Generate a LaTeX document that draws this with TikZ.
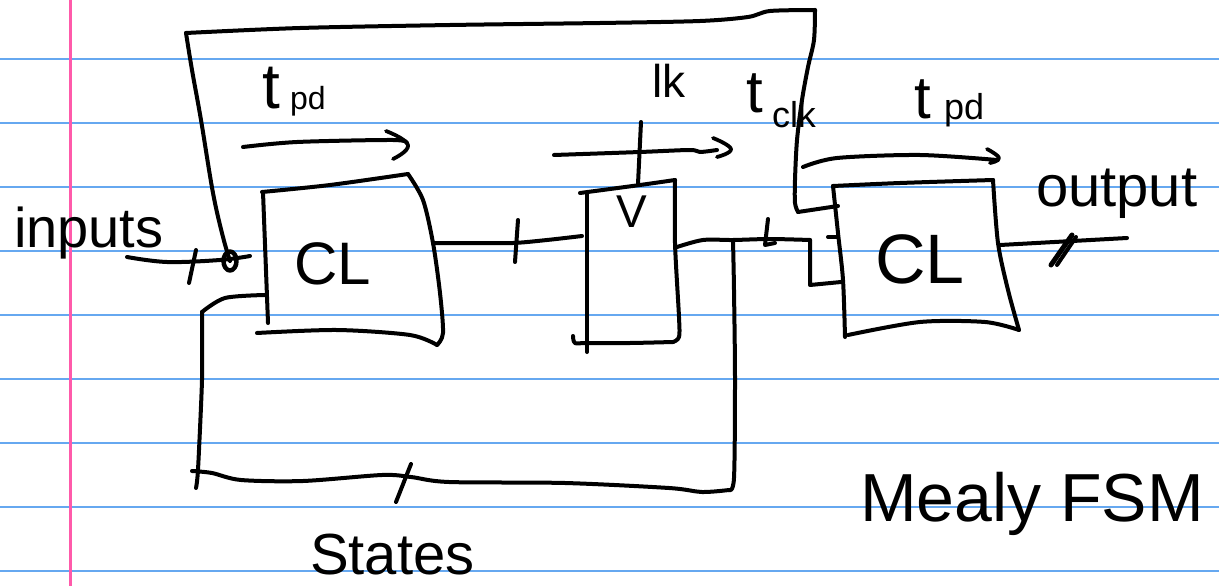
\documentclass[tikz,border=0pt]{standalone}
\usepackage{fontspec}
\setmainfont{Liberation Sans}
\definecolor{ruleblue}{RGB}{102,168,240}
\definecolor{marginpink}{RGB}{255,90,170}
\begin{document}
\begin{tikzpicture}[x=1pt,y=-1pt,
  ink/.style={line width=4pt,line cap=round,line join=round,black},
  rule/.style={line width=2pt,ruleblue},
  margin/.style={line width=2.2pt,marginpink},
  hand/.style={inner sep=0pt,outer sep=0pt,text=black},
  tip/.style={ink,line width=3.8pt}]
\useasboundingbox (0,0) rectangle (1219,586);
\fill[white] (0,0) rectangle (1219,586);
% ruled paper
\foreach \k in {0,...,8}{\draw[rule] (0,59+64*\k) -- (1219,59+64*\k);}
\draw[margin] (70.5,0) -- (70.5,586);

% key coordinates
\coordinate (dot) at (230,261);
\coordinate (inStart) at (127,257);
\coordinate (topL) at (186,33);
\coordinate (topR) at (815,10);
\coordinate (clkEnd) at (798,212);
\coordinate (cl2in1) at (838,206);
\coordinate (j1) at (733,240);
\coordinate (step) at (810,240);
\coordinate (cl2in2) at (841,282);

% ---- top feedback (inputs -> second CL)
\draw[ink] plot[smooth,tension=0.6] coordinates {(dot) (223,237) (213,193) (201,120) (192,70) (topL)};
\draw[ink] plot[smooth,tension=0.5] coordinates {(topL) (300,28) (450,25) (600,23) (700,21) (748,17) (770,11) (topR)};
\draw[ink] plot[smooth,tension=0.5] coordinates {(topR) (814,40) (808,67) (802,100) (797,140) (795,180) (795,203) (clkEnd)};
\draw[ink] (clkEnd) -- (cl2in1);

% ---- inputs line
\draw[ink] plot[smooth,tension=0.6] coordinates {(inStart) (167,262) (220,260) (250,256)};
\draw[ink] (196,250) -- (189,283);
\draw[ink,line width=4.5pt] (dot) ellipse [x radius=6.5pt, y radius=9.5pt];

% ---- first CL box
\node[hand,font=\fontsize{60}{60}\selectfont] (cl1) at (333,264) {CL};
\draw[ink] (263,192) -- (268,323);
\draw[ink] plot[smooth,tension=0.5] coordinates {(262,192) (330,185) (408,174)};
\draw[ink] plot[smooth,tension=0.5] coordinates {(408,174) (423,200) (433,243) (440,293) (443,333) (437,345)};
\draw[ink] plot[smooth,tension=0.5] coordinates {(437,345) (410,335) (337,330) (257,333)};

% ---- states feedback loop
\draw[ink] plot[smooth,tension=0.5] coordinates {(265,295) (225,298) (202,312)};
\draw[ink] plot[smooth,tension=0.4] coordinates {(202,312) (202,380) (198,470) (196,488)};
\draw[ink] plot[smooth,tension=0.5] coordinates {(192,471) (212,473) (241,480) (303,481) (382,475) (411,477) (449,482) (565,483) (669,488) (702,492) (729,490)};
\draw[ink] plot[smooth,tension=0.5] coordinates {(729,490) (734,478) (735,380) (734,290) (j1)};
\draw[ink] (411,464) -- (396,502);

% ---- CL1 -> register
\draw[ink] plot[smooth,tension=0.5] coordinates {(433,243) (470,243) (513,243) (547,240) (582,236)};
\draw[ink] (518,220) -- (515,262);

% ---- register
\node[hand,font=\fontsize{46}{46}\selectfont] (reg) at (632,212) {V};
\draw[ink] (587,193) -- (587,352);
\draw[ink] plot[smooth,tension=0.5] coordinates {(580,193) (640,185) (675,180)};
\draw[ink] plot[smooth,tension=0.5] coordinates {(675,180) (675,243) (679,317) (679,337) (673,342)};
\draw[ink] plot[smooth,tension=0.5] coordinates {(673,342) (630,343) (587,343) (575,343) (573,336)};
\draw[ink] (641,122) -- (638,184);

% ---- register -> second CL
\draw[ink] plot[smooth,tension=0.5] coordinates {(677,247) (703,240) (j1) (770,239) (step)};
\draw[ink] (768,219) -- (765,245) -- (775,243);
\draw[ink] (step) -- (810,285) -- (cl2in2);
\draw[ink] (828,237) -- (838,237);

% ---- second CL box
\node[hand,font=\fontsize{70}{70}\selectfont] (cl2) at (920,259) {CL};
\draw[ink] plot[smooth,tension=0.5] coordinates {(833,186) (838,233) (843,280) (845,337)};
\draw[ink] plot[smooth,tension=0.5] coordinates {(833,186) (900,183) (993,180)};
\draw[ink] plot[smooth,tension=0.5] coordinates {(993,180) (998,243) (1008,290) (1019,330)};
\draw[ink] plot[smooth,tension=0.5] coordinates {(1019,330) (985,322) (920,322) (848,335)};

% ---- output
\coordinate (outEnd) at (1127,238);
\draw[ink] (1000,245) -- (outEnd);
\draw[ink,line width=5pt] (1051,265) -- (1072,235);
\draw[ink] (1057,265) -- (1076,237);

% ---- timing arrows
\draw[ink] plot[smooth,tension=0.5] coordinates {(243,147) (297,142) (393,140) (407,143)};
\draw[tip] plot[smooth,tension=0.8] coordinates {(386,131) (408,145) (393,159)};
\draw[ink] plot[smooth,tension=0.5] coordinates {(554,155) (640,152) (690,150) (700,152) (717,150)};
\draw[tip] plot[smooth,tension=0.8] coordinates {(713,138) (731,149) (717,157)};
\draw[ink] plot[smooth,tension=0.5] coordinates {(803,167) (837,158) (920,155) (997,160)};
\draw[tip] plot[smooth,tension=0.8] coordinates {(987,149) (999,158) (990,163)};

% ---- labels
\node[hand,anchor=base west,font=\fontsize{56}{56}\selectfont] (inputs) at (14,247) {inputs};
\node[hand,anchor=base west,font=\fontsize{64}{64}\selectfont] (tpd1) at (262,108) {t};
\node[hand,anchor=base west,font=\fontsize{32}{32}\selectfont] (tpd1s) at (290,110) {pd};
\node[hand,anchor=base west,font=\fontsize{46}{46}\selectfont] (lk) at (652,98) {lk};
\node[hand,anchor=base west,font=\fontsize{60}{60}\selectfont] (tclk) at (746,113) {t};
\node[hand,anchor=base west,font=\fontsize{36}{36}\selectfont] (tclks) at (772,127) {clk};
\node[hand,anchor=base west,font=\fontsize{60}{60}\selectfont] (tpd2) at (914,118) {t};
\node[hand,anchor=base west,font=\fontsize{36}{36}\selectfont] (tpd2s) at (944,120) {pd};
\node[hand,anchor=base west,font=\fontsize{58}{58}\selectfont] (output) at (1036,206) {output};
\node[hand,anchor=base west,font=\fontsize{68}{68}\selectfont] (mealy) at (860,521) {Mealy FSM};
\node[hand,anchor=base west,font=\fontsize{58}{58}\selectfont] (states) at (310,574) {States};
\end{tikzpicture}
\end{document}
